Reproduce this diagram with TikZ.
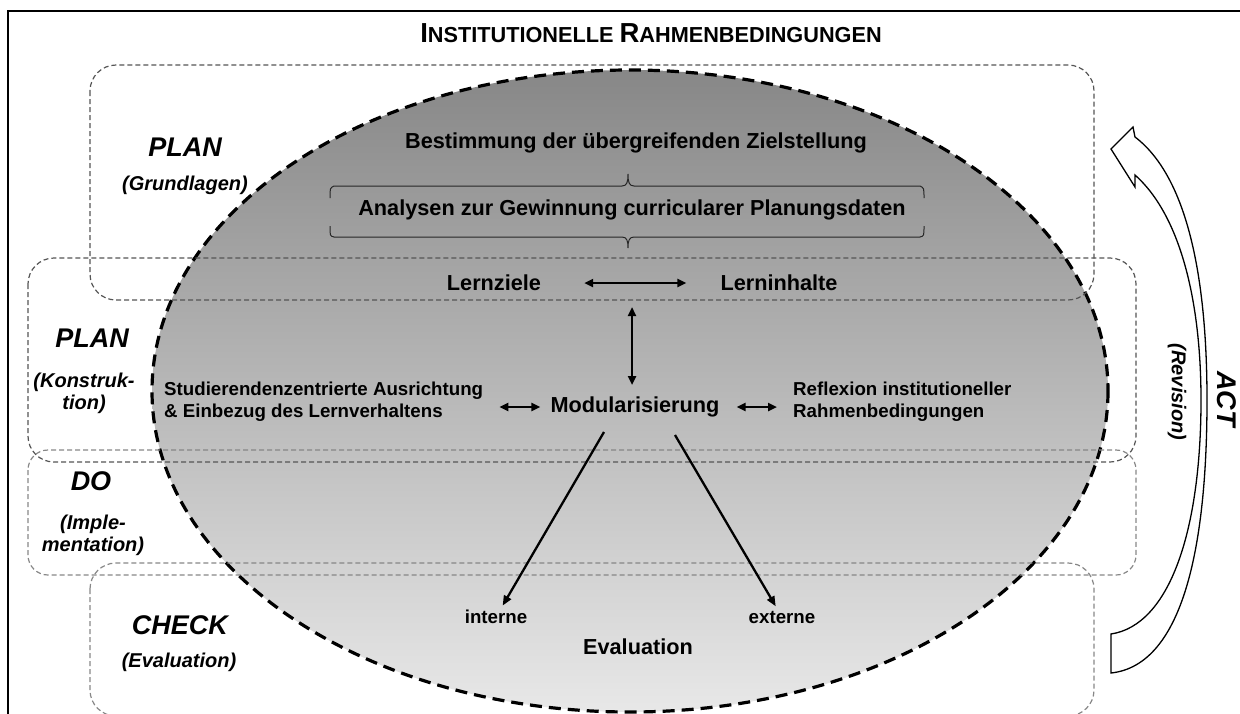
\documentclass[tikz,border=0pt]{standalone}
\usepackage{fontspec}
\setmainfont{Liberation Sans}
\usetikzlibrary{arrows.meta}
\definecolor{boxdark}{RGB}{85,85,85}
\definecolor{boxlight}{RGB}{135,135,135}
\definecolor{elltop}{RGB}{135,135,135}
\definecolor{ellbot}{RGB}{232,232,232}
\newcommand\fsz[2]{\fontsize{#1}{#2}\selectfont}
\begin{document}
\begin{tikzpicture}[x=1pt,y=-1pt,
    every node/.style={inner sep=0pt},
    phase/.style={font=\fsz{27}{30}\bfseries\itshape},
    sub/.style={font=\fsz{20}{22}\bfseries\itshape,align=center},
    lbl/.style={font=\fsz{21.7}{24}\bfseries},
    small/.style={font=\fsz{18.7}{22}\bfseries,align=left},
    rahmen/.style={draw=boxdark,line width=1.2pt,dash pattern=on 5pt off 3pt,rounded corners=26pt},
    dbl/.style={{Triangle[length=9pt,width=8pt]}-{Triangle[length=9pt,width=8pt]},line width=2.3pt},
    arr/.style={-{Triangle[length=10pt,width=8pt]},line width=2.3pt},
    klammer/.style={line width=1pt,draw=black!85}]
    \useasboundingbox (0,0) rectangle (1240,713);
    \draw[line width=1.5pt] (8,720) -- (8,11) -- (1250,11);
    \node (titel) at (651,33) {\fsz{21.7}{24}\bfseries{\fsz{27.5}{27}I}NSTITUTIONELLE {\fsz{27.5}{27}R}AHMENBEDINGUNGEN};
    \draw[top color=elltop,bottom color=ellbot,line width=3.2pt,dash pattern=on 12pt off 7pt] (630,391) ellipse [x radius=478,y radius=321];
    \draw[rahmen] (90,65) rectangle (1094,300);
    \draw[rahmen] (28,258) rectangle (1136,462);
    \draw[rahmen,draw=boxlight,rounded corners=20pt] (28,450) rectangle (1136,575);
    \draw[rahmen,draw=boxlight] (90,563) rectangle (1094,716);
    \node[phase] (plan1) at (185,147) {PLAN};
    \node[sub] (grund) at (185,185) {(Grundlagen)};
    \node[phase] (plan2) at (92,338) {PLAN};
    \node[sub] (konstr) at (84,393) {(Konstruk-\\tion)};
    \node[phase] (do) at (91,481) {DO};
    \node[sub] (imple) at (93,535) {(Imple-\\mentation)};
    \node[phase] (check) at (180,625) {CHECK};
    \node[sub] (evalu) at (179,662) {(Evaluation)};
    \node[lbl] (bestimmung) at (636,143) {Bestimmung der übergreifenden Zielstellung};
    \node[lbl] (analysen) at (632,210) {Analysen zur Gewinnung curricularer Planungsdaten};
    \draw[klammer] (330,198) .. controls (330,188) .. (334,186) -- (622,186)
        .. controls (627,186) and (628,182) .. (628,174)
        .. controls (628,182) and (629,186) .. (634,186) -- (920,186) .. controls (924,188) .. (924,198);
    \draw[klammer] (330,226) .. controls (330,236) .. (334,237) -- (622,237)
        .. controls (627,237) and (628,241) .. (628,248)
        .. controls (628,241) and (629,237) .. (634,237) -- (920,237) .. controls (924,236) .. (924,226);
    \node[lbl] (lernziele) at (494,283) {Lernziele};
    \node[lbl] (lerninhalte) at (779,283) {Lerninhalte};
    \node[lbl,font=\fsz{21.7}{24}\bfseries] (modul) at (635,407) {Modularisierung};
    \node[small,anchor=west] (studi) at (164,402) {Studierendenzentrierte Ausrichtung\\\& Einbezug des Lernverhaltens};
    \node[small,anchor=west] (reflex) at (793,402) {Reflexion institutioneller\\Rahmenbedingungen};
    \node[small] (intern) at (496,617) {interne};
    \node[small] (extern) at (782,617) {externe};
    \node[lbl] (evaluation) at (638,647) {Evaluation};
    \coordinate (oben) at (632,307);
    \coordinate (unten) at (632,385);
    \coordinate (m1) at (604,432);
    \coordinate (m2) at (675,435);
    \draw[dbl,shorten <=43pt,shorten >=34pt] (lernziele.east) -- (lerninhalte.west);
    \draw[dbl] (oben) -- (unten);
    \draw[dbl,shorten <=16pt,shorten >=10pt] (studi.east |- modul.west) -- (modul.west);
    \draw[dbl,shorten <=17pt,shorten >=16pt] (modul.east) -- (reflex.west |- modul.east);
    \draw[arr,shorten >=5pt] (m1) -- (intern);
    \draw[arr,shorten >=5pt] (m2) -- (extern);
    \draw[line width=1.3pt,fill=white] (1133,127) -- (1111,149) -- (1135,187) -- (1135,175)
        .. controls (1180,215) and (1201,300) .. (1201,400)
        .. controls (1201,530) and (1170,625) .. (1111,634) -- (1111,673)
        .. controls (1185,665) and (1207,540) .. (1207,400)
        .. controls (1207,270) and (1185,175) .. (1135,137) -- cycle;
    \node[sub,rotate=-90] (revision) at (1177,392) {(Revision)};
    \node[phase,rotate=-90] (act) at (1227,399) {ACT};
\end{tikzpicture}
\end{document}
